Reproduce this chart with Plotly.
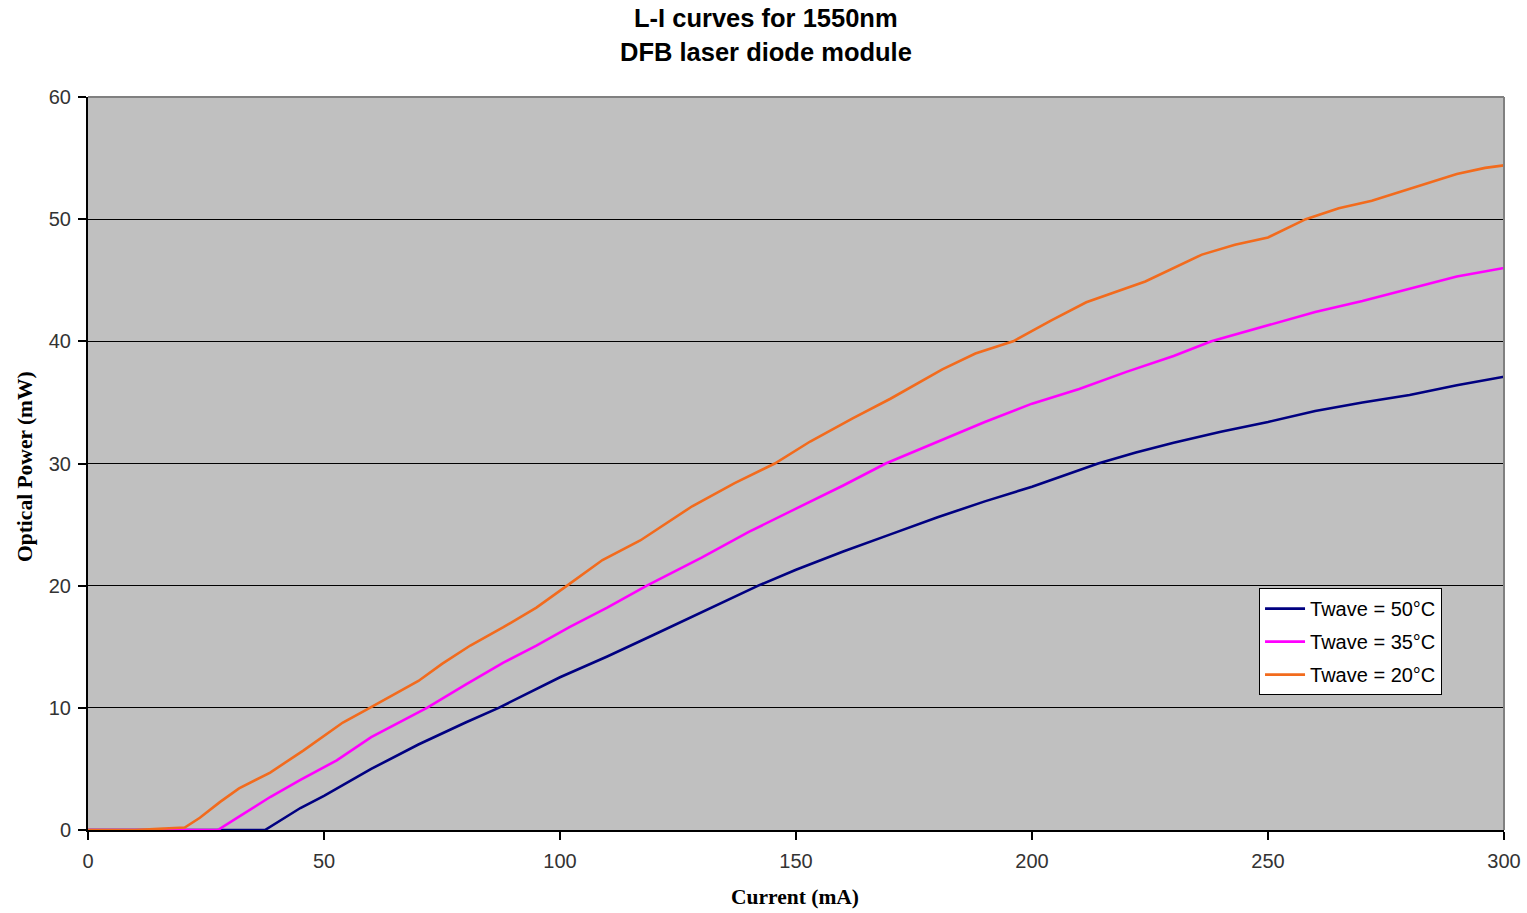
import plotly.graph_objects as go

# L-I measurements, current in mA, optical power in mW
current_50 = [0, 10, 20, 30, 37.5, 45, 50, 60, 70, 80, 87, 100, 110, 120, 130, 142, 150,
              160, 170, 180, 190, 200, 214, 222, 230, 240, 250, 260, 270, 280, 290, 300]
power_50 = [0, 0, 0, 0, 0, 1.8, 2.8, 5.0, 7.0, 8.8, 10.0, 12.5, 14.2, 16.0, 17.8, 20.0,
            21.3, 22.8, 24.2, 25.6, 26.9, 28.1, 30.0, 30.9, 31.7, 32.6, 33.4, 34.3, 35.0, 35.6, 36.4, 37.1]

current_35 = [0, 10, 20, 27.5, 32, 38.6, 45, 52.7, 60, 71.8, 80, 88, 95, 102, 110, 118.4, 130, 140, 150,
              160, 169, 180, 190, 200, 210, 220, 230, 238, 250, 260, 270, 280, 290, 300]
power_35 = [0, 0, 0, 0, 1.1, 2.7, 4.1, 5.7, 7.6, 10.0, 11.9, 13.7, 15.1, 16.6, 18.2, 20.0, 22.3, 24.4,
            26.3, 28.2, 30.0, 31.8, 33.4, 34.9, 36.1, 37.5, 38.8, 40.0, 41.3, 42.4, 43.3, 44.3, 45.3, 46.0]

current_20 = [0, 10, 15, 20.5, 23.7, 28, 32, 38.6, 45.6, 54, 59.7, 65, 70, 75, 81, 88, 95, 101.5,
              109, 117, 128, 137, 145.5, 153, 162, 170, 181, 188, 196, 204, 211.5, 224, 236, 243, 250,
              258, 265, 272, 280, 290, 296, 300]
power_20 = [0, 0, 0.1, 0.2, 1.0, 2.3, 3.4, 4.7, 6.5, 8.8, 10.0, 11.1, 12.2, 13.6, 15.1, 16.6, 18.2, 20.0,
            22.1, 23.7, 26.5, 28.4, 30.0, 31.8, 33.7, 35.3, 37.7, 39.0, 40.0, 41.7, 43.2, 44.9, 47.1, 47.9,
            48.5, 50.0, 50.9, 51.5, 52.5, 53.7, 54.2, 54.4]

x_ticks = [0, 50, 100, 150, 200, 250, 300]
y_ticks = [0, 10, 20, 30, 40, 50, 60]

series = [
    ("Twave = 50°C", current_50, power_50, "#000080"),
    ("Twave = 35°C", current_35, power_35, "#FF00FF"),
    ("Twave = 20°C", current_20, power_20, "#F26B1D"),
]

fig = go.Figure()
for name, xs, ys, color in series:
    fig.add_trace(go.Scatter(x=xs, y=ys, mode="lines", name=name, legendgroup=name,
                             line=dict(color=color, width=2.6)))

sans = "Liberation Sans, Arial, sans-serif"
serif = "Liberation Serif, Times New Roman, serif"
tick_font = dict(family=sans, size=20, color="#333333")
axis_title_font = dict(family=serif, size=21.5, color="#000000")
title_font = dict(family=sans, size=25.5, color="#000000")

# plot area: 88..1504 px horizontally, 97..830 px vertically
fig.update_layout(
    width=1527, height=913,
    margin=dict(l=88, r=23, t=97, b=83, autoexpand=False),
    paper_bgcolor="white",
    plot_bgcolor="#C0C0C0",
    xaxis=dict(
        range=[0, 300], tickvals=x_ticks, showgrid=False, zeroline=False, automargin=False,
        showline=True, linecolor="#000000", linewidth=2,
        ticks="outside", ticklen=8, tickcolor="#000000", tickwidth=1.5,
        tickfont=tick_font, ticklabelstandoff=4,
    ),
    yaxis=dict(
        range=[0, 60], tickvals=y_ticks, showgrid=True, gridcolor="#000000", gridwidth=1,
        zeroline=False, showline=True, linecolor="#000000", linewidth=2, automargin=False,
        ticks="outside", ticklen=8, tickcolor="#000000", tickwidth=1.5,
        tickfont=tick_font, ticklabelstandoff=3,
    ),
    legend=dict(
        x=0.827, y=0.330, xanchor="left", yanchor="top",
        bgcolor="white", bordercolor="#000000", borderwidth=1,
        font=dict(family=sans, size=20, color="#000000"),
        tracegroupgap=4, itemwidth=40,
    ),
    annotations=[
        dict(text="<b>L-I curves for 1550nm</b>", xref="paper", yref="paper",
             x=0.4788, y=1.1078, xanchor="center", yanchor="middle",
             showarrow=False, font=title_font),
        dict(text="<b>DFB laser diode module</b>", xref="paper", yref="paper",
             x=0.4788, y=1.0614, xanchor="center", yanchor="middle",
             showarrow=False, font=title_font),
        dict(text="<b>Current (mA)</b>", xref="paper", yref="paper",
             x=0.499, y=-0.0914, xanchor="center", yanchor="middle",
             showarrow=False, font=axis_title_font),
        dict(text="<b>Optical Power (mW)</b>", xref="paper", yref="paper",
             x=-0.0445, y=0.4966, xanchor="center", yanchor="middle", textangle=-90,
             showarrow=False, font=axis_title_font),
    ],
    shapes=[
        dict(type="line", xref="x domain", yref="y domain", x0=0, x1=1, y0=1, y1=1,
             line=dict(color="#808080", width=2), layer="above"),
        dict(type="line", xref="x domain", yref="y domain", x0=1, x1=1, y0=0, y1=1,
             line=dict(color="#808080", width=2), layer="above"),
    ],
)

fig.write_html("out.html")
